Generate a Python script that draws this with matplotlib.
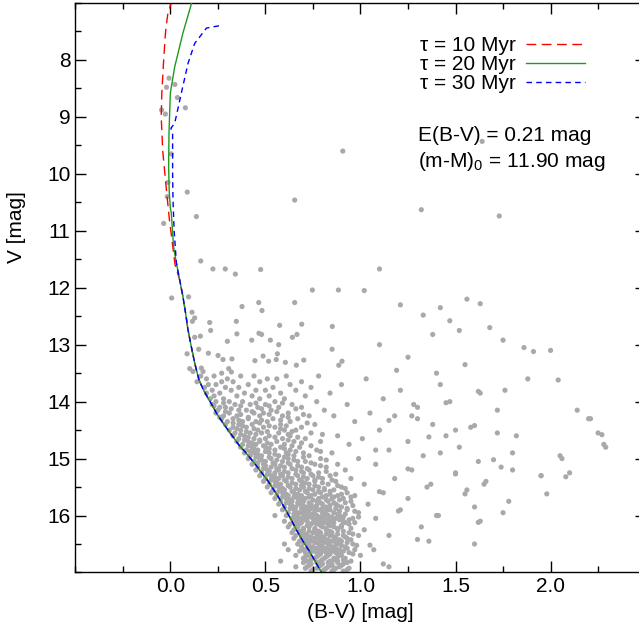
import matplotlib
matplotlib.use('Agg')
import matplotlib.pyplot as plt
from matplotlib.ticker import MultipleLocator

plt.rcParams['font.family'] = ['Liberation Sans', 'DejaVu Sans']
plt.rcParams['mathtext.fontset'] = 'custom'
plt.rcParams['mathtext.rm'] = 'Liberation Sans'
plt.rcParams['mathtext.it'] = 'Liberation Sans:italic'

# shared lower main sequence of the isochrones (B-V, V)
ms_bv = [0.049, 0.066, 0.08, 0.093, 0.11, 0.128, 0.14, 0.15, 0.172, 0.195, 0.22, 0.242, 0.268,
         0.295, 0.33, 0.365, 0.39, 0.415, 0.44, 0.465, 0.49, 0.515, 0.54, 0.566, 0.59, 0.615,
         0.64, 0.663, 0.685, 0.707, 0.73, 0.751, 0.773, 0.795]
ms_v = [11.86, 12.15, 12.44, 12.74, 13.03, 13.32, 13.48, 13.61, 13.78, 13.92, 14.06, 14.2, 14.33,
        14.46, 14.62, 14.78, 14.87, 14.97, 15.07, 15.18, 15.29, 15.4, 15.53, 15.66, 15.8, 15.95,
        16.1, 16.25, 16.38, 16.5, 16.62, 16.74, 16.87, 17.0]

# upper parts, where the three ages split
top10_bv = [0.01, 0.0, -0.013, -0.025, -0.035, -0.045, -0.048, -0.04, -0.02, -0.005, 0.01, 0.025]
top10_v = [6.9, 7.05, 7.18, 7.5, 8.0, 8.6, 9.0, 9.6, 10.3, 10.8, 11.2, 11.6]
top20_bv = [0.125, 0.066, 0.023, 0.0, -0.007, -0.009, -0.006, 0.0, 0.005, 0.017, 0.032]
top20_v = [6.85, 7.53, 8.12, 8.58, 9.28, 9.87, 10.3, 10.6, 10.69, 11.28, 11.57]
top30_bv = [0.256, 0.19, 0.128, 0.093, 0.058, 0.023, 0.003, 0.012, 0.012, 0.012, 0.014, 0.02, 0.032]
top30_v = [7.40, 7.44, 7.71, 8.06, 8.58, 9.11, 9.2, 9.3, 9.6, 10.0, 10.46, 11.0, 11.57]

# bright stars and upper band
upper_stars = [(0.907, 9.60), (0.654, 10.46), (1.64, 9.43), (0.089, 10.32), (0.137, 10.75),
               (-0.035, 10.87), (-0.007, 8.32), (-0.02, 8.48), (0.024, 8.43), (0.037, 8.66),
               (0.079, 8.84), (-0.046, 8.88), (-0.026, 8.95), (0.005, 9.65), (-0.012, 10.15),
               (-0.016, 10.4), (0.16, 11.53), (0.224, 11.67), (0.289, 11.67), (0.342, 11.76),
               (0.475, 11.68), (0.747, 12.04), (0.884, 12.04), (0.007, 12.18), (0.096, 12.16),
               (0.114, 12.43), (0.377, 12.33), (0.465, 12.26), (0.482, 12.40), (0.654, 12.26),
               (0.207, 12.61), (0.212, 12.75), (0.575, 12.66), (0.691, 12.64), (0.852, 12.68),
               (0.116, 12.59), (0.128, 12.53), (0.347, 12.59), (0.35, 12.81), (0.466, 12.80),
               (0.48, 12.82), (0.158, 12.85), (0.128, 12.87), (0.3, 12.94), (0.428, 12.92),
               (0.526, 12.92), (0.57, 13.0), (0.642, 12.87), (0.666, 12.82), (0.088, 13.16),
               (0.149, 13.08), (0.2, 13.15), (0.251, 13.19), (0.277, 13.26), (0.324, 13.25),
               (0.445, 13.28), (0.488, 13.2), (0.517, 13.29), (0.557, 13.26), (0.563, 13.16),
               (0.605, 13.31), (0.663, 13.36), (0.702, 13.27), (0.851, 13.08), (0.903, 13.29),
               (0.886, 13.36), (0.102, 13.42), (0.119, 13.47), (0.163, 13.41), (0.172, 13.47),
               (0.27, 13.50), (0.307, 13.42), (0.321, 13.48)]

# field stars to the red
field_stars = [(1.32, 10.63), (1.73, 10.74), (1.1, 11.67), (1.02, 12.05), (1.21, 12.3),
               (1.33, 12.48), (1.42, 12.35), (1.56, 12.2), (1.63, 12.28), (1.47, 12.58),
               (1.38, 12.82), (1.52, 12.75), (1.68, 12.7), (1.75, 12.92), (1.86, 13.05),
               (1.91, 13.12), (2.0, 13.1), (1.88, 13.6), (2.04, 13.62), (1.1, 13.0),
               (1.25, 13.22), (1.19, 13.45), (1.4, 13.5), (1.55, 13.35), (1.62, 13.82),
               (1.76, 13.8), (1.72, 14.15), (1.45, 14.02), (1.3, 14.3), (1.15, 14.33),
               (1.36, 14.62), (1.5, 14.5), (1.6, 14.42), (2.2, 14.3), (2.27, 14.58),
               (2.29, 14.8), (2.05, 14.95), (1.95, 15.3), (2.08, 15.32), (1.8, 15.2),
               (1.7, 15.02), (1.65, 15.45), (1.5, 15.27), (1.55, 15.62), (1.35, 15.5),
               (1.25, 15.18), (1.1, 15.58), (1.2, 15.92), (1.4, 16.0), (1.62, 16.12),
               (1.75, 15.95), (1.6, 16.5), (1.3, 16.42), (1.05, 16.52), (1.15, 16.9),
               (1.08, 14.85), (1.28, 14.05), (1.42, 14.9), (1.82, 14.6), (1.98, 15.62)]

# main band and the clump of faint members, row by row (V, [B-V ...])
band_rows = [
    (13.55, [0.16, 0.23, 0.37, 0.44, 0.61, 0.78]), (13.60, [0.19, 0.3, 0.51, 0.56, 1.03]),
    (13.65, [0.14, 0.27, 0.33, 0.47, 0.69]), (13.70, [0.2, 0.24, 0.41, 0.63, 0.9, 1.42]),
    (13.75, [0.18, 0.29, 0.36, 0.54, 0.74]), (13.80, [0.22, 0.32, 0.45, 0.5, 0.66, 1.21]),
    (13.85, [0.19, 0.26, 0.39, 0.58, 0.84, 1.63]), (13.90, [0.23, 0.35, 0.43, 0.52, 0.71]),
    (13.95, [0.21, 0.28, 0.47, 0.6, 1.12]), (14.00, [0.24, 0.31, 0.38, 0.55, 0.77, 1.47]),
    (14.05, [0.22, 0.34, 0.42, 0.5, 0.64, 0.93]), (14.10, [0.26, 0.29, 0.46, 0.57, 0.69, 1.3]),
    (14.15, [0.25, 0.36, 0.4, 0.53, 0.81, 2.14]), (14.20, [0.24, 0.31, 0.44, 0.49, 0.62, 1.05]),
    (14.25, [0.28, 0.35, 0.47, 0.59, 0.73, 0.86, 1.18, 1.27]),
    (14.30, [0.27, 0.33, 0.41, 0.54, 0.67, 2.21]), (14.35, [0.3, 0.38, 0.45, 0.51, 0.63, 0.97]),
    (14.40, [0.29, 0.36, 0.43, 0.58, 0.76, 1.38]), (14.45, [0.33, 0.4, 0.49, 0.55, 0.69, 1.58]),
    (14.50, [0.31, 0.37, 0.46, 0.6, 0.66, 1.1]),
    (14.55, [0.34, 0.42, 0.48, 0.57, 0.74, 1.72, 2.25]),
    (14.60, [0.33, 0.39, 0.52, 0.63, 0.88, 1.45]), (14.65, [0.36, 0.44, 0.5, 0.59, 0.71, 1.01]),
    (14.70, [0.35, 0.41, 0.47, 0.56, 0.65, 0.79, 1.25]),
    (14.75, [0.38, 0.45, 0.53, 0.6, 0.94, 2.28]), (14.80, [0.37, 0.43, 0.5, 0.58, 0.68, 1.52]),
    (14.85, [0.4, 0.46, 0.55, 0.63, 0.77, 1.15]),
    (14.90, [0.39, 0.44, 0.52, 0.61, 0.7, 0.85, 1.8]),
    (14.95, [0.42, 0.48, 0.57, 0.65, 0.73, 1.33]),
    (15.00, [0.41, 0.47, 0.53, 0.62, 0.79, 0.99, 2.06]),
    (15.05, [0.44, 0.5, 0.59, 0.67, 0.71, 1.62]),
    (15.10, [0.43, 0.49, 0.55, 0.63, 0.76, 0.88, 1.08]),
    (15.15, [0.46, 0.53, 0.6, 0.69, 0.82, 1.74]),
    (15.20, [0.45, 0.51, 0.57, 0.66, 0.73, 0.92, 1.27]),
    (15.25, [0.48, 0.55, 0.62, 0.7, 0.78, 1.5, 2.1]),
    (15.30, [0.47, 0.53, 0.59, 0.67, 0.75, 0.84, 1.95]),
    (15.35, [0.5, 0.57, 0.64, 0.72, 0.8, 0.95, 1.18]),
    (15.40, [0.49, 0.55, 0.61, 0.69, 0.76, 0.87, 1.66]),
    (15.45, [0.52, 0.58, 0.66, 0.73, 0.83, 1.02, 1.37]),
    (15.50, [0.51, 0.57, 0.63, 0.7, 0.78, 0.9]),
    (15.55, [0.54, 0.6, 0.68, 0.75, 0.81, 0.86, 1.56]),
    (15.60, [0.53, 0.59, 0.65, 0.72, 0.79, 0.93, 1.12]),
    (15.65, [0.56, 0.62, 0.69, 0.74, 0.82, 0.88, 0.97]),
    (15.70, [0.55, 0.61, 0.67, 0.71, 0.78, 0.85, 0.91, 1.25]),
    (15.75, [0.58, 0.64, 0.7, 0.77, 0.83, 0.95, 1.78]),
    (15.80, [0.57, 0.63, 0.68, 0.74, 0.8, 0.87, 1.04]),
    (15.85, [0.6, 0.66, 0.72, 0.76, 0.82, 0.9, 1.6]),
    (15.90, [0.59, 0.65, 0.7, 0.78, 0.84, 0.93, 1.21]),
    (15.95, [0.62, 0.68, 0.73, 0.8, 0.86, 0.99]),
    (16.00, [0.55, 0.61, 0.67, 0.71, 0.77, 0.83, 0.89, 1.41]),
    (16.05, [0.64, 0.69, 0.75, 0.81, 0.87, 0.96, 1.08]),
    (16.10, [0.6, 0.66, 0.72, 0.79, 0.85, 0.91, 1.63]),
    (16.15, [0.63, 0.68, 0.74, 0.77, 0.83, 0.94]),
    (16.20, [0.62, 0.67, 0.73, 0.8, 0.86, 0.9, 1.32]),
    (16.25, [0.65, 0.7, 0.76, 0.82, 0.88, 1.02]),
    (16.30, [0.64, 0.69, 0.75, 0.79, 0.85, 0.94]),
    (16.35, [0.66, 0.72, 0.78, 0.84, 0.91, 0.99, 1.15]),
    (16.40, [0.65, 0.71, 0.76, 0.81, 0.87, 0.93]),
    (16.45, [0.68, 0.74, 0.79, 0.85, 0.9, 1.36]),
    (16.50, [0.6, 0.67, 0.72, 0.78, 0.83, 0.88, 0.96]),
    (16.55, [0.69, 0.75, 0.8, 0.86, 0.92]),
    (16.60, [0.62, 0.7, 0.74, 0.79, 0.84, 0.89, 0.97, 1.07]),
    (16.65, [0.71, 0.77, 0.82, 0.87, 0.94]),
    (16.70, [0.66, 0.73, 0.78, 0.83, 0.9, 1.0]),
    (16.75, [0.7, 0.76, 0.81, 0.86, 0.92]),
    (16.80, [0.58, 0.72, 0.79, 0.84, 0.88, 0.95]),
    (16.85, [0.74, 0.8, 0.85, 0.91, 1.12]),
    (16.90, [0.66, 0.72, 0.78, 0.83, 0.89]),
    (16.95, [0.75, 0.81, 0.86, 0.93]),
    # interleaved rows
    (14.025, [0.28, 0.45, 0.59]), (14.075, [0.23, 0.37, 0.52]), (14.125, [0.32, 0.48, 0.66]),
    (14.175, [0.29, 0.43, 0.56]), (14.225, [0.37, 0.52, 0.7]), (14.275, [0.26, 0.41, 0.62]),
    (14.325, [0.36, 0.48, 0.58]), (14.375, [0.33, 0.47, 0.72]), (14.425, [0.38, 0.52, 0.61]),
    (14.475, [0.35, 0.44, 0.58]), (14.525, [0.4, 0.51, 0.64]), (14.575, [0.37, 0.45, 0.62, 0.8]),
    (14.625, [0.41, 0.55, 0.67]), (14.675, [0.39, 0.47, 0.62]), (14.725, [0.43, 0.51, 0.69]),
    (14.775, [0.41, 0.49, 0.64, 0.74]), (14.825, [0.44, 0.52, 0.6]),
    (14.875, [0.42, 0.5, 0.66, 0.79]), (14.925, [0.46, 0.55, 0.62]),
    (14.975, [0.45, 0.52, 0.6, 0.7]), (15.025, [0.48, 0.56, 0.65, 0.82]),
    (15.075, [0.46, 0.54, 0.62, 0.74]), (15.125, [0.5, 0.58, 0.67, 0.79]),
    (15.175, [0.49, 0.56, 0.64, 0.72]), (15.225, [0.52, 0.6, 0.69, 0.82]),
    (15.275, [0.51, 0.58, 0.66, 0.74, 0.87]), (15.325, [0.55, 0.62, 0.7, 0.78]),
    (15.375, [0.53, 0.6, 0.68, 0.76, 0.85]), (15.425, [0.56, 0.64, 0.71, 0.8]),
    (15.475, [0.55, 0.62, 0.69, 0.76, 0.88]), (15.525, [0.59, 0.66, 0.73, 0.81, 0.92]),
    (15.575, [0.57, 0.64, 0.71, 0.78, 0.84]), (15.625, [0.61, 0.67, 0.76, 0.84, 0.9]),
    (15.675, [0.59, 0.65, 0.73, 0.8, 0.86, 0.95]), (15.725, [0.63, 0.69, 0.75, 0.82, 0.89]),
    (15.775, [0.61, 0.67, 0.73, 0.79, 0.86, 0.92]), (15.825, [0.64, 0.7, 0.77, 0.84, 0.88, 0.96]),
    (15.875, [0.63, 0.69, 0.74, 0.8, 0.87, 0.93]), (15.925, [0.66, 0.72, 0.76, 0.82, 0.89, 0.97]),
    (15.975, [0.65, 0.7, 0.75, 0.81, 0.88, 0.92]), (16.025, [0.66, 0.73, 0.79, 0.85, 0.91, 0.99]),
    (16.075, [0.67, 0.71, 0.77, 0.83, 0.89, 0.94]), (16.125, [0.69, 0.75, 0.81, 0.86, 0.92, 0.97]),
    (16.175, [0.66, 0.72, 0.79, 0.84, 0.9]), (16.225, [0.7, 0.76, 0.82, 0.88, 0.95]),
    (16.275, [0.68, 0.73, 0.78, 0.84, 0.91]), (16.325, [0.71, 0.77, 0.82, 0.88, 0.96]),
    (16.375, [0.69, 0.74, 0.8, 0.86, 0.92]), (16.425, [0.72, 0.78, 0.83, 0.89, 0.95]),
    (16.475, [0.7, 0.76, 0.81, 0.87, 0.93]), (16.525, [0.73, 0.79, 0.84, 0.9, 0.98]),
    (16.575, [0.72, 0.77, 0.82, 0.87, 0.93]), (16.625, [0.68, 0.75, 0.8, 0.86, 0.91]),
    (16.675, [0.73, 0.79, 0.84, 0.89, 0.96]), (16.725, [0.71, 0.77, 0.82, 0.88]),
    (16.775, [0.74, 0.8, 0.86, 0.91]), (16.825, [0.7, 0.77, 0.83, 0.88, 0.93]),
    (16.875, [0.73, 0.79, 0.85, 0.9]), (16.925, [0.71, 0.77, 0.82, 0.87, 0.94]),
    (16.975, [0.74, 0.8, 0.85, 0.91]),
]

star_bv = [b for b, v in upper_stars + field_stars]
star_v = [v for b, v in upper_stars + field_stars]
for v, row in band_rows:
    star_bv += row
    star_v += [v] * len(row)

fig = plt.figure(figsize=(6.39, 6.28), dpi=100)
ax = fig.add_axes([0.1178, 0.0884, 0.8926, 0.9068])

ax.scatter(star_bv, star_v, s=14, color='#a9a9ac', edgecolors='none', zorder=1)
l1, = ax.plot(top10_bv + ms_bv, top10_v + ms_v, color='red', lw=1.0, dashes=(7, 4), zorder=2)
l2, = ax.plot(top20_bv + ms_bv, top20_v + ms_v, color='#1f9a1f', lw=1.0, zorder=3)
l3, = ax.plot(top30_bv + ms_bv, top30_v + ms_v, color='blue', lw=1.0, dashes=(4, 3), zorder=4)

ax.legend([l1, l2, l3], ['τ = 10 Myr', 'τ = 20 Myr', 'τ = 30 Myr'],
          loc='upper left', bbox_to_anchor=(0.578, 0.967), frameon=False, markerfirst=False,
          fontsize=15, handlelength=2.85, handletextpad=0.5, labelspacing=0.0, borderpad=0.2)

ax.text(0.601, 0.768, 'E(B-V) = 0.21 mag', transform=ax.transAxes, fontsize=15, va='center')
ax.text(0.601, 0.721, '(m-M)$_0$ = 11.90 mag', transform=ax.transAxes, fontsize=15, va='center')

ax.set_xlim(-0.5, 2.5)
ax.set_ylim(17, 7)
ax.xaxis.set_major_locator(MultipleLocator(0.5))
ax.xaxis.set_minor_locator(MultipleLocator(0.25))
ax.yaxis.set_major_locator(MultipleLocator(1))
ax.yaxis.set_minor_locator(MultipleLocator(0.5))
ax.tick_params(which='both', direction='in', top=True, right=True, labelsize=15, width=1.0)
ax.tick_params(which='major', length=8)
ax.tick_params(which='minor', length=4.5)
for sp in ax.spines.values():
    sp.set_linewidth(1.0)
ax.set_xticks([0.0, 0.5, 1.0, 1.5, 2.0])
ax.set_xticklabels(['0.0', '0.5', '1.0', '1.5', '2.0'])
ax.set_yticks(range(8, 17))

ax.set_xlabel('(B-V) [mag]', fontsize=15, labelpad=5)
ax.set_ylabel('V [mag]', fontsize=15)
ax.yaxis.set_label_coords(-0.087, 0.606)

fig.savefig('out.png', dpi=100)
